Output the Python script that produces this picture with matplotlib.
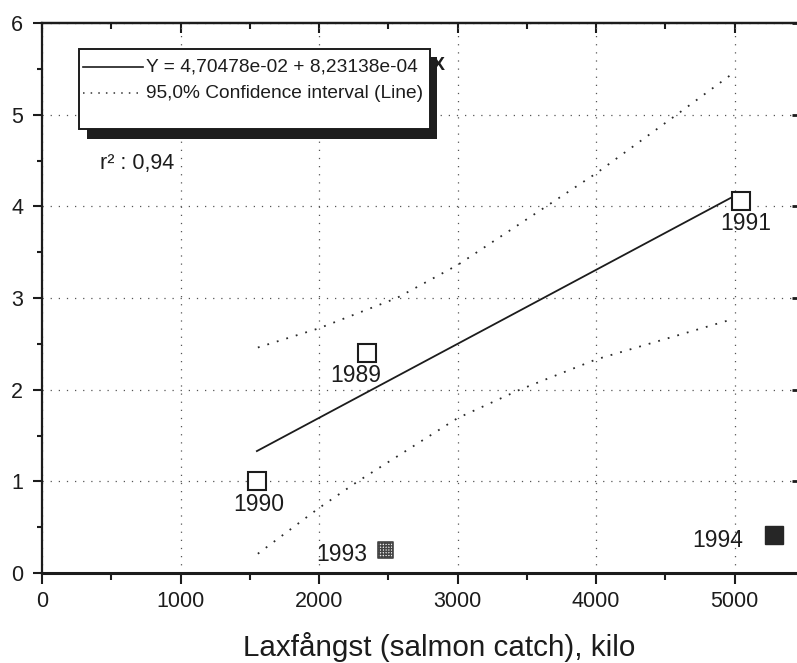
import matplotlib
matplotlib.use("Agg")
import matplotlib.pyplot as plt
from matplotlib.ticker import MultipleLocator, NullFormatter
from matplotlib.patches import Rectangle
from matplotlib.lines import Line2D

plt.rcParams['font.family'] = ['Liberation Sans', 'DejaVu Sans']

# ---- data ----
years = ["1990", "1989", "1991"]
catch_open = [1550, 2345, 5043]
value_open = [1.0, 2.40, 4.06]

year_1993 = "1993"
catch_1993 = [2482]
value_1993 = [0.25]

year_1994 = "1994"
catch_1994 = [5281]
value_1994 = [0.42]

fit_x = [1551, 5043]
fit_y = [1.33, 4.15]

upper_x = [1558, 2000, 2561, 3000, 4000, 4581, 4986]
upper_y = [2.46, 2.67, 3.00, 3.36, 4.36, 5.00, 5.45]
lower_x = [1558, 2000, 2280, 3000, 3449, 4000, 4986]
lower_y = [0.21, 0.71, 1.00, 1.69, 2.00, 2.33, 2.77]

legend_fit = "Y = 4,70478e-02 + 8,23138e-04"
legend_ci = "95,0% Confidence interval (Line)"
r2_text = "r\u00b2 : 0,94"
xlabel = "Laxf\u00e5ngst (salmon catch), kilo"

xticks = [0, 1000, 2000, 3000, 4000, 5000]
yticks = [0, 1, 2, 3, 4, 5, 6]

W, H = 797, 663
ink = '#1c1c1c'

def P(x, y):
    return (x / W, 1 - y / H)

fig = plt.figure(figsize=(W / 100, H / 100), dpi=100)
ax = fig.add_axes([42 / W, (H - 573) / H, (804 - 42) / W, (573 - 23) / H])
ax.set_xlim(0, 5500)
ax.set_ylim(0, 6)

# grid
ax.grid(True, which='major', linestyle=(0, (1, 5.5)), color='#555555', linewidth=0.9)
ax.set_axisbelow(True)

# ticks
ax.set_xticks(xticks)
ax.set_yticks(yticks)
ax.xaxis.set_minor_locator(MultipleLocator(500))
ax.yaxis.set_minor_locator(MultipleLocator(0.5))
ax.tick_params(which='major', direction='out', width=1.5, color=ink,
               labelsize=15.5, labelcolor=ink)
ax.tick_params(which='minor', direction='out', width=1.5, color=ink)
ax.tick_params(axis='x', which='major', length=8, pad=5)
ax.tick_params(axis='x', which='minor', length=5)
ax.tick_params(axis='y', which='major', length=6.5, pad=7)
ax.tick_params(axis='y', which='minor', length=3.5)

for side in ['left', 'top', 'right']:
    ax.spines[side].set_linewidth(1.6)
    ax.spines[side].set_color(ink)
ax.spines['bottom'].set_linewidth(2.2)
ax.spines['bottom'].set_color(ink)

top = ax.secondary_xaxis('top')
top.set_xticks(xticks)
top.xaxis.set_minor_locator(MultipleLocator(500))
top.xaxis.set_major_formatter(NullFormatter())
top.tick_params(which='major', direction='in', length=7.5, width=1.5, color=ink)
top.tick_params(which='minor', direction='in', length=4, width=1.5, color=ink)
top.spines['top'].set_linewidth(1.6)

right = ax.secondary_yaxis('right')
right.set_yticks(yticks)
right.yaxis.set_minor_locator(MultipleLocator(0.5))
right.yaxis.set_major_formatter(NullFormatter())
right.tick_params(which='major', direction='in', length=9, width=2, color=ink)
right.tick_params(which='minor', direction='in', length=5, width=1.5, color=ink)

# confidence band and fit
ax.plot(upper_x, upper_y, linestyle=(0, (1, 4.5)), color='#2a2a2a', linewidth=1.3)
ax.plot(lower_x, lower_y, linestyle=(0, (1, 4.5)), color='#2a2a2a', linewidth=1.3)
ax.plot(fit_x, fit_y, color=ink, linewidth=1.3)

# markers
ax.plot(catch_open, value_open, linestyle='none', marker='s', markersize=12.5,
        markerfacecolor='white', markeredgecolor=ink, markeredgewidth=1.5, zorder=5)
ax.scatter(catch_1993, value_1993, marker='s', s=120, facecolor='#ededed',
           edgecolor='#444444', hatch='++++++', linewidths=1.2, zorder=5)
ax.plot(catch_1994, value_1994, linestyle='none', marker='s', markersize=12.5,
        markerfacecolor='#262626', markeredgecolor='#262626', zorder=5)

label_offsets = {"1990": (1.5, -16.5), "1989": (-8, -16), "1991": (3.5, -16)}
for yr, xv, yv in zip(years, catch_open, value_open):
    ax.annotate(yr, (xv, yv), xytext=label_offsets[yr], textcoords='offset points',
                ha='center', va='center', fontsize=16.5, color=ink)
ax.annotate(year_1993, (catch_1993[0], value_1993[0]), xytext=(-32, -3),
            textcoords='offset points', ha='center', va='center', fontsize=16.5, color=ink)
ax.annotate(year_1994, (catch_1994[0], value_1994[0]), xytext=(-40, -4.5),
            textcoords='offset points', ha='center', va='center', fontsize=16.5, color=ink)

# legend box with shadow
x0, y0 = P(87, 139)
x1, y1 = P(437, 57)
fig.add_artist(Rectangle((x0, y0), x1 - x0, y1 - y0, transform=fig.transFigure,
                         facecolor='#1e1e1e', edgecolor='none', zorder=3))
x0, y0 = P(79, 129)
x1, y1 = P(430, 49)
fig.add_artist(Rectangle((x0, y0), x1 - x0, y1 - y0, transform=fig.transFigure,
                         facecolor='white', edgecolor=ink, linewidth=1.4, zorder=4))
a, b = P(83, 67)
c, d = P(143, 67)
fig.add_artist(Line2D([a, c], [b, d], transform=fig.transFigure, color=ink,
                      linewidth=1.2, zorder=5))
a, b = P(83, 93)
c, d = P(143, 93)
fig.add_artist(Line2D([a, c], [b, d], transform=fig.transFigure, color='#333333',
                      linewidth=1.1, linestyle=(0, (1, 4)), zorder=5))
fig.text(*P(146, 67), legend_fit, ha='left', va='center', fontsize=13.8, color=ink, zorder=6)
fig.text(*P(146, 93), legend_ci, ha='left', va='center', fontsize=13.8, color=ink, zorder=6)
fig.text(*P(438, 65), "X", ha='center', va='center', fontsize=14, color=ink,
         fontweight='bold', zorder=6)

# r squared
fig.text(*P(100, 164), r2_text, ha='left', va='center', fontsize=15.5, color=ink)

# x label
fig.text(*P(439, 647), xlabel, ha='center', va='center', fontsize=21.3, color=ink)

fig.savefig("out.png", dpi=100, facecolor='white')
